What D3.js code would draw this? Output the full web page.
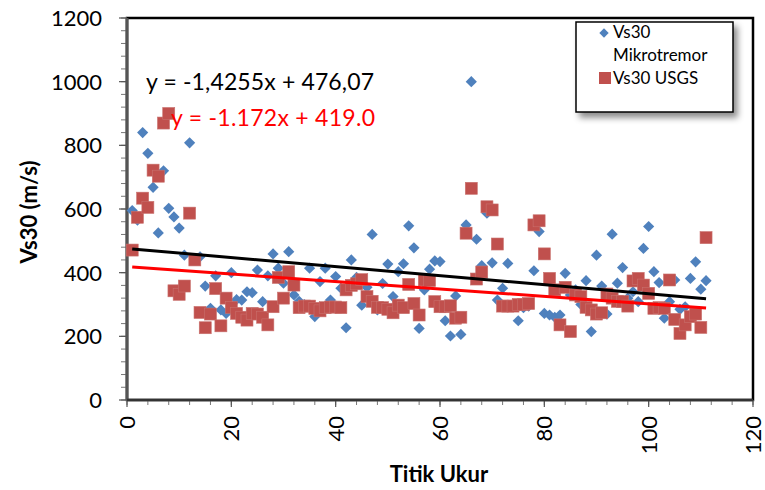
<!DOCTYPE html>
<html>
<head>
    <meta charset="utf-8" />
    <title>Vs30 Mikrotremor vs USGS</title>
    <style>
        body { margin: 0; background-color: white; }
        text { font-family: Lato, "Open Sans", sans-serif; }
    </style>
    <script src="https://cdnjs.cloudflare.com/ajax/libs/d3/7.8.5/d3.min.js"></script>
</head>
<body>
    <script>
        // Vs30 Mikrotremor (blue diamonds), titik ukur 1..111
        var mikrotremor = [
            595, 565, 840, 775, 668, 525, 720, 602, 575, 540,
            455, 808, 440, 450, 358, 288, 390, 283, 272, 400,
            315, 314, 340, 337, 408, 309, 390, 459, 414, 367,
            466, 330, 310, 300, 414, 262, 372, 414, 314, 388,
            351, 227, 440, 385, 298, 354, 520, 283, 366, 427,
            325, 403, 428, 547, 478, 225, 346, 411, 437, 435,
            249, 201, 327, 206, 550, 1000, 505, 422, 587, 431,
            314, 351, 429, 300, 249, 290, 295, 406, 529, 272,
            267, 260, 267, 398, 330, 346, 300, 375, 215, 455,
            358, 270, 521, 367, 416, 320, 340, 309, 476, 545,
            403, 369, 257, 309, 377, 285, 293, 382, 434, 348,
            375
        ];
        // Vs30 USGS (red squares)
        var usgs = [
            471, 574, 634, 605, 722, 703, 870, 900, 343, 332,
            358, 587, 440, 275, 227, 270, 350, 233, 320, 291,
            272, 260, 251, 272, 270, 260, 236, 293, 385, 320,
            403, 361, 290, 295, 295, 288, 280, 290, 292, 292,
            290, 346, 360, 365, 378, 325, 310, 291, 290, 285,
            274, 298, 290, 363, 303, 267, 377, 375, 309, 293,
            293, 296, 257, 260, 524, 665, 380, 402, 607, 597,
            490, 295, 295, 295, 300, 300, 303, 550, 563, 459,
            382, 346, 236, 354, 215, 330, 325, 291, 283, 270,
            274, 333, 320, 310, 309, 295, 374, 382, 361, 335,
            288, 290, 288, 377, 253, 209, 236, 262, 270, 228,
            510
        ];
        // linear trend lines as printed on the chart
        var trendMikro = [-1.4255, 476.07];
        var trendUsgs = [-1.172, 419.0];
        var eqLabels = ["y = -1,4255x + 476,07", "y = -1.172x + 419.0"];
        var legendLabels = ["Vs30", "Mikrotremor", "Vs30 USGS"];
        var xTicks = [0, 20, 40, 60, 80, 100, 120];
        var yTicks = [0, 200, 400, 600, 800, 1000, 1200];

        var width = 765, height = 490;
        var blue = "#4F81BD", red = "#C0504D";

        var svg = d3.select("body").append("svg")
            .attr("width", width)
            .attr("height", height);

        var defs = svg.append("defs");
        var f = defs.append("filter").attr("id", "shadow")
            .attr("x", "-10%").attr("y", "-10%").attr("width", "130%").attr("height", "140%");
        f.append("feDropShadow").attr("dx", 4).attr("dy", 5)
            .attr("stdDeviation", 3).attr("flood-color", "#000").attr("flood-opacity", 0.45);

        var x = d3.scaleLinear().domain([0, 120]).range([127, 753]);
        var y = d3.scaleLinear().domain([0, 1200]).range([400, 18]);

        // plot frame
        svg.append("rect")
            .attr("x", x(0)).attr("y", y(1200))
            .attr("width", x(120) - x(0)).attr("height", y(0) - y(1200))
            .attr("fill", "none").attr("stroke", "#000").attr("stroke-width", 2.5);

        // y axis
        var yAxis = svg.append("g").attr("transform", "translate(" + x(0) + ",0)");
        yAxis.selectAll("line.minor").data(d3.range(0, 1201, 40))
            .enter().append("line")
            .attr("x1", -6).attr("x2", 0)
            .attr("y1", d => y(d)).attr("y2", d => y(d))
            .attr("stroke", "#777").attr("stroke-width", 1);
        yAxis.selectAll("line.major").data(yTicks)
            .enter().append("line")
            .attr("x1", -8).attr("x2", 0)
            .attr("y1", d => y(d)).attr("y2", d => y(d))
            .attr("stroke", "#555").attr("stroke-width", 1.2);
        yAxis.append("line")
            .attr("y1", y(0)).attr("y2", y(1200))
            .attr("stroke", "#555").attr("stroke-width", 3);
        yAxis.selectAll("text").data(yTicks)
            .enter().append("text")
            .attr("x", -25).attr("y", d => y(d) + 8)
            .attr("text-anchor", "end")
            .style("font-size", "22px")
            .text(d => d);

        // x axis
        var xAxis = svg.append("g").attr("transform", "translate(0," + y(0) + ")");
        xAxis.selectAll("line.minor").data(d3.range(0, 121, 4))
            .enter().append("line")
            .attr("x1", d => x(d)).attr("x2", d => x(d))
            .attr("y1", 0).attr("y2", 5)
            .attr("stroke", "#777").attr("stroke-width", 1);
        xAxis.selectAll("line.major").data(xTicks)
            .enter().append("line")
            .attr("x1", d => x(d)).attr("x2", d => x(d))
            .attr("y1", 0).attr("y2", 7)
            .attr("stroke", "#555").attr("stroke-width", 1.2);
        xAxis.append("line")
            .attr("x1", x(0)).attr("x2", x(120))
            .attr("stroke", "#333").attr("stroke-width", 2.5);
        xAxis.selectAll("text").data(xTicks)
            .enter().append("text")
            .attr("transform", d => "translate(" + (x(d) + 8) + ",16) rotate(-90)")
            .attr("text-anchor", "end")
            .style("font-size", "22px")
            .text(d => d);

        // axis titles
        svg.append("text")
            .attr("transform", "translate(37,212) rotate(-90)")
            .attr("text-anchor", "middle")
            .style("font-size", "22px").style("font-weight", "bold")
            .text("Vs30 (m/s)");
        svg.append("text")
            .attr("x", 439).attr("y", 482)
            .attr("text-anchor", "middle")
            .style("font-size", "22px").style("font-weight", "bold")
            .text("Titik Ukur");

        // series
        var diamond = d3.symbol().type(d3.symbolDiamond2).size(80);
        svg.append("g").selectAll("path").data(mikrotremor)
            .enter().append("path")
            .attr("d", diamond)
            .attr("transform", (d, i) => "translate(" + x(i + 1) + "," + y(d) + ")")
            .attr("fill", blue);

        svg.append("g").selectAll("rect").data(usgs)
            .enter().append("rect")
            .attr("x", (d, i) => x(i + 1) - 6)
            .attr("y", d => y(d) - 6)
            .attr("width", 12).attr("height", 12)
            .attr("fill", red)
            .attr("stroke", "#C9706D").attr("stroke-width", 0.6);

        // trend lines
        function trend(c, col) {
            svg.append("line")
                .attr("x1", x(1)).attr("y1", y(c[0] * 1 + c[1]))
                .attr("x2", x(111)).attr("y2", y(c[0] * 111 + c[1]))
                .attr("stroke", col).attr("stroke-width", 3);
        }
        trend(trendMikro, "#000");
        trend(trendUsgs, "#FF0000");

        // equations, stretched to the width they take in the original
        svg.append("text").attr("x", 146).attr("y", 90)
            .style("font-size", "23px").attr("fill", "#000")
            .attr("textLength", 228).attr("lengthAdjust", "spacing")
            .text(eqLabels[0]);
        svg.append("text").attr("x", 171).attr("y", 126)
            .style("font-size", "23px").attr("fill", "#FF0000")
            .attr("textLength", 204).attr("lengthAdjust", "spacing")
            .text(eqLabels[1]);

        // legend
        var lg = svg.append("g");
        lg.append("rect")
            .attr("x", 576).attr("y", 22).attr("width", 157).attr("height", 90)
            .attr("fill", "white").attr("stroke", "#000").attr("stroke-width", 1.5)
            .attr("filter", "url(#shadow)");
        lg.append("path")
            .attr("d", d3.symbol().type(d3.symbolDiamond2).size(56))
            .attr("transform", "translate(604,33)")
            .attr("fill", blue);
        lg.append("rect")
            .attr("x", 599).attr("y", 72).attr("width", 12).attr("height", 12)
            .attr("fill", red);
        lg.selectAll("text.lab").data(legendLabels)
            .enter().append("text")
            .attr("x", 613)
            .attr("y", (d, i) => [38, 61, 84][i])
            .style("font-size", "17px")
            .text(d => d);
    </script>
</body>
</html>
